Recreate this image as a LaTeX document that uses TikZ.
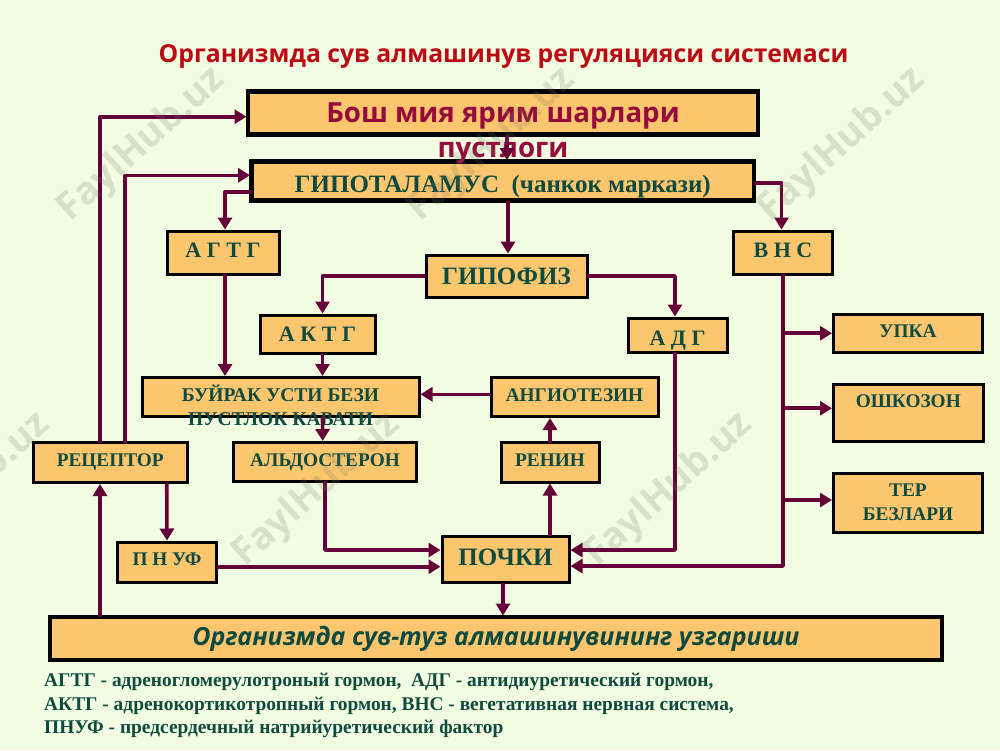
\documentclass[tikz,border=0pt]{standalone}
\usepackage{fontspec}
\setmainfont{Liberation Serif}
\newfontfamily\titlefont{Open Sans}
\usetikzlibrary{positioning,arrows.meta}
\definecolor{pagebg}{HTML}{F1FCE2}
\definecolor{boxfill}{HTML}{FCC66F}
\definecolor{boxtext}{HTML}{0E4A3E}
\definecolor{flowcol}{HTML}{660038}
\definecolor{titlecol}{HTML}{BC0A14}
\definecolor{braincol}{HTML}{960A3C}
\definecolor{markcol}{HTML}{6E7A62}
\tikzset{
  box/.style={draw=black, fill=boxfill, line width=3pt, inner sep=0pt, outer sep=0pt,
    text=boxtext, font=\bfseries\fontsize{19.3}{24}\selectfont, align=center},
  bigbox/.style={box, line width=4.5pt},
  spaced/.style={font=\bfseries\fontsize{22}{24}\selectfont},
  large/.style={font=\bfseries\fontsize{25}{28}\selectfont},
  flow/.style={draw=flowcol, line width=3.6pt, line join=round, shorten >=1.5pt,
    -{Triangle[length=12pt,width=14pt]}},
  wmark/.style={text=markcol, text opacity=.2, rotate=42,
    font=\titlefont\bfseries\fontsize{38}{38}\selectfont},
}
\begin{document}
\begin{tikzpicture}[x=1pt,y=-1pt]
  \fill[pagebg] (0,0) rectangle (1000,750);
  \useasboundingbox (0,0) rectangle (1000,750);
  \node [text=titlecol, font=\titlefont\bfseries\fontsize{24.75}{30}\selectfont] (title) at (503.5,56) {Организмда сув алмашинув регуляцияси системаси};
  % boxes
  \node [bigbox, anchor=north west, minimum width=510pt, minimum height=43pt] (brain) at (248,91.5) {};
  \node [bigbox, large, text height=23pt, text depth=0pt, below right=70pt and 3.5pt of brain.north west, minimum width=502.5pt, minimum height=39pt] (hypo) {ГИПОТАЛАМУС\ \ (чанкок маркази)};
  \node [box, spaced, text depth=4pt, below right=69.5pt and -84.5pt of hypo.north west, minimum width=112pt, minimum height=43pt] (agtg) {А Г Т Г};
  \node [box, large, below right=93.5pt and 174.5pt of hypo.north west, minimum width=161pt, minimum height=42pt] (gipo) {ГИПОФИЗ};
  \node [box, spaced, text depth=4pt, below right=69.5pt and 482pt of hypo.north west, minimum width=99pt, minimum height=43pt] (vns) {В Н С};
  \node [box, spaced, below right=60pt and -166pt of gipo.north west, minimum width=115pt, minimum height=38pt] (aktg) {А К Т Г};
  \node [box, spaced, text height=20pt, text depth=0pt, below right=63pt and 202pt of gipo.north west, minimum width=99pt, minimum height=34pt] (adg) {А Д Г};
  \node [box, text depth=4pt, below right=83.5pt and 100pt of vns.north west, minimum width=149pt, minimum height=37.5pt] (upka) {УПКА};
  \node [box, below right=62.5pt and -118pt of aktg.north west, minimum width=277pt, minimum height=39pt] (bujrak) {};
  \node [box, text depth=4pt, below right=0pt and 349pt of bujrak.north west, minimum width=167pt, minimum height=39pt] (angio) {АНГИОТЕЗИН};
  \node [box, below right=70pt and 0pt of upka.north west, minimum width=149.5pt, minimum height=56.5pt] (oshk) {ОШКОЗОН\\~};
  \node [box, below right=65pt and -108.5pt of bujrak.north west, minimum width=153.5pt, minimum height=40pt] (resep) {РЕЦЕПТОР};
  \node [box, below right=65pt and 91.5pt of bujrak.north west, minimum width=183pt, minimum height=38.5pt] (aldo) {АЛЬДОСТЕРОН};
  \node [box, text depth=4pt, below right=65pt and 10pt of angio.north west, minimum width=98pt, minimum height=39.5pt] (renin) {РЕНИН};
  \node [box, below right=88.5pt and 0pt of oshk.north west, minimum width=149pt, minimum height=59pt] (ter) {ТЕР\\БЕЗЛАРИ};
  \node [box, text depth=6pt, below right=99.5pt and 84pt of resep.north west, minimum width=99pt, minimum height=40.5pt] (pnuf) {П Н УФ};
  \node [box, large, text depth=4pt, below right=93.5pt and 208.5pt of aldo.north west, minimum width=127pt, minimum height=46.5pt] (pochki) {ПОЧКИ};
  \node [bigbox, below right=75pt and -67.5pt of pnuf.north west, minimum width=892pt, minimum height=43pt, line width=4pt, font=\titlefont\bfseries\itshape\fontsize{25}{28}\selectfont] (change) {Организмда сув-туз алмашинувининг узгариши};
  % text that runs out of its box
  \node [text=braincol, align=center, font=\titlefont\bfseries\fontsize{27.7}{35}\selectfont, below=8pt of brain.north] (braintxt) {Бош мия ярим шарлари\\пустлоги};
  \node [text=boxtext, align=center, font=\bfseries\fontsize{19.5}{24}\selectfont, below=4pt of bujrak.north] (bujraktxt) {БУЙРАК УСТИ БЕЗИ\\ПУСТЛОК КАВАТИ};
  % connectors
  \draw [flow] ([xshift=-10.25pt]resep.north) |- ([yshift=-3.7pt]brain.west);
  \draw [flow] ([xshift=14.75pt]resep.north) |- ([yshift=5.7pt]hypo.west);
  \draw [flow] ([yshift=-10.7pt]hypo.west) -| ([xshift=2pt]agtg.north);
  \draw [flow] ([xshift=2pt]agtg.south) -- ([xshift=-55.5pt]bujrak.north);
  \draw [flow] ([xshift=4pt]brain.south) -- ([xshift=4.25pt]hypo.north);
  \draw [flow] ([xshift=5.25pt]hypo.south) -- ([xshift=1.5pt]gipo.north);
  \draw [flow] (gipo.west) -| ([xshift=5pt]aktg.north);
  \draw [flow] (gipo.east) -| ([xshift=-2.5pt]adg.north);
  \draw [flow] ([yshift=-2pt]hypo.east) -| ([xshift=-1.5pt]vns.north);
  \draw [flow] ([xshift=5pt]aktg.south) -- ([xshift=42pt]bujrak.north);
  \draw [flow] ([xshift=42pt]bujrak.south) -- ([xshift=-2.3pt]aldo.north);
  \draw [flow] ([yshift=2.7pt]angio.west) -- ([yshift=2.7pt]bujrak.east);
  \draw [flow] (renin.north) -- ([xshift=-24.5pt]angio.south);
  \draw [flow] ([xshift=44.5pt]pochki.north) -- (renin.south);
  \draw [flow] (aldo.south) |- ([yshift=9.2pt]pochki.west);
  \draw [flow] ([xshift=-2.5pt]adg.south) |- ([yshift=9.2pt]pochki.east);
  \draw [flow] (vns.south) |- ([yshift=-6.8pt]pochki.east);
  \draw [flow] ([yshift=-4.45pt]pnuf.east) -- ([yshift=-7.45pt]pochki.west);
  \draw [flow] ([xshift=-2.5pt]pochki.south) -- ([xshift=7pt]change.north);
  \draw [flow] ([xshift=-396pt]change.north) -- ([xshift=-10.25pt]resep.south);
  \draw [flow] ([xshift=56.5pt]resep.south) -- (pnuf.north);
  \draw [flow] (vns.south |- upka.west) -- (upka.west);
  \draw [flow] ([yshift=4.5pt]vns.south |- oshk.west) -- ([yshift=4.5pt]oshk.west);
  \draw [flow] ([yshift=2.5pt]vns.south |- ter.west) -- ([yshift=2.5pt]ter.west);
  % legend
  \node [text=boxtext, anchor=north west, align=left, font=\bfseries\fontsize{19.4}{23.5}\selectfont] (legend) at (40.7,670) {АГТГ - адреногломерулотроный гормон,\ \ АДГ - антидиуретический гормон,\\АКТГ - адренокортикотропный гормон, ВНС - вегетативная нервная система,\\ПНУФ - предсердечный натрийуретический фактор};
  % watermark
  \foreach \px/\py/\mk in {142/145/a, 492/145/b, 842/145/c, -33/490/d, 317/490/e, 669/490/f}
    \node [wmark] (mark\mk) at (\px,\py) {FaylHub.uz};
\end{tikzpicture}
\end{document}
